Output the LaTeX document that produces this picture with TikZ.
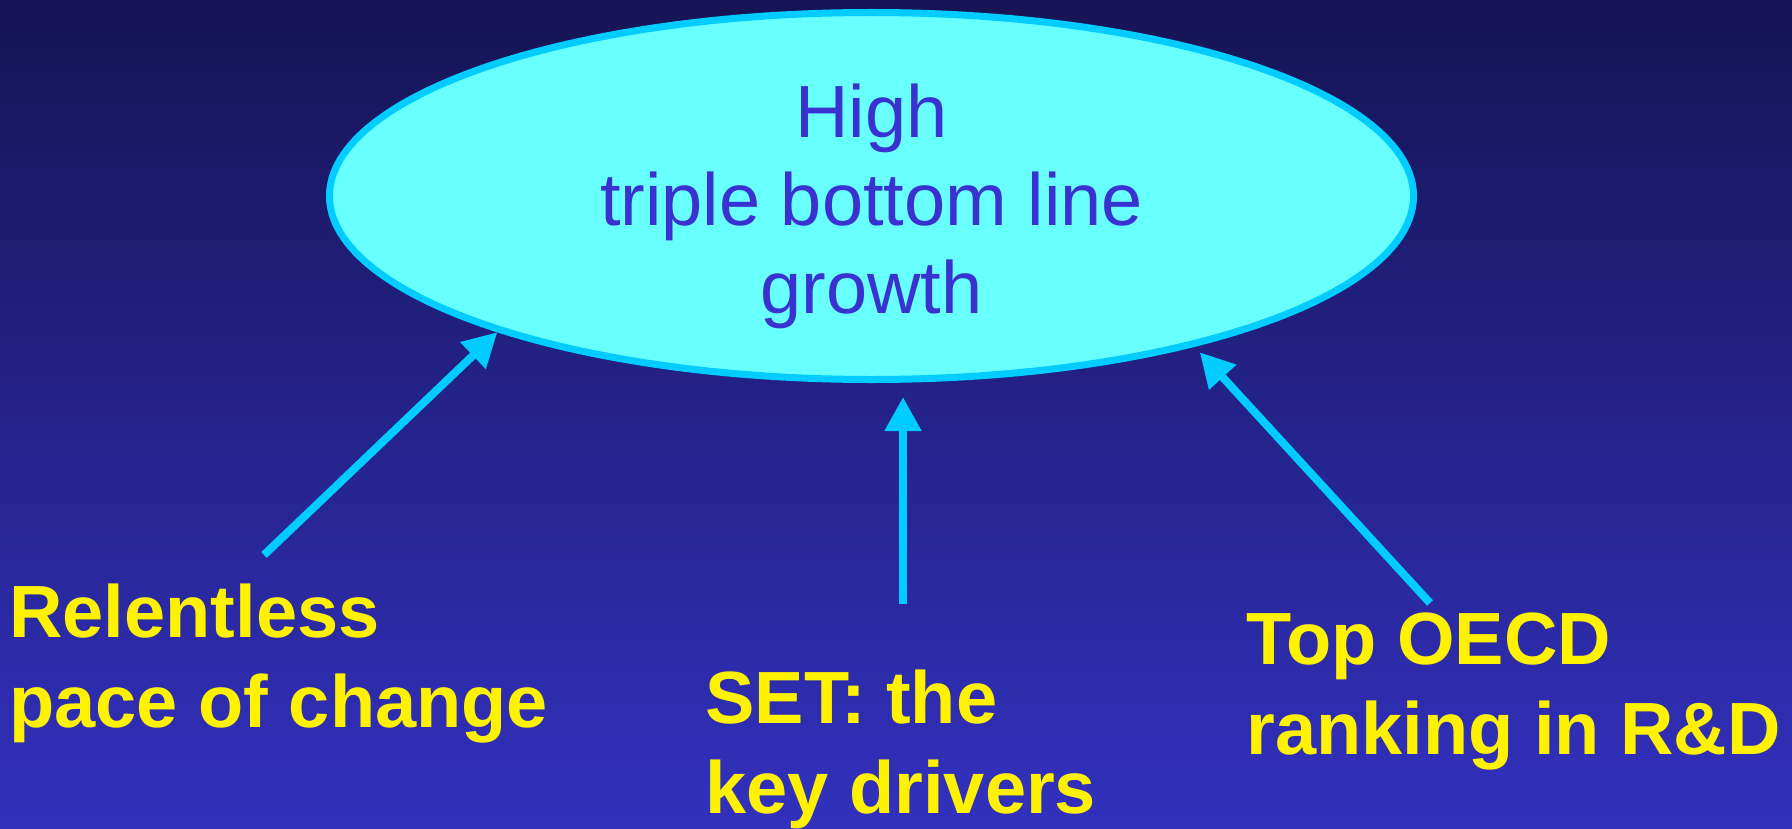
\documentclass[tikz,border=0pt]{standalone}
\usepackage{fontspec}
\setmainfont{Liberation Sans}
\usepackage{xcolor}
\usepackage{tikz}
\usetikzlibrary{arrows.meta,shapes.geometric}
\definecolor{slidetop}{RGB}{22,20,84}
\definecolor{slidebottom}{RGB}{50,49,190}
\definecolor{rimcyan}{RGB}{0,204,255}
\definecolor{goalfill}{RGB}{104,255,255}
\definecolor{goaltext}{RGB}{58,50,208}

\begin{document}
\begin{tikzpicture}[x=0.5pt,y=-0.5pt,
    goalshape/.style={ellipse,draw=rimcyan,fill=goalfill,line width=3.5pt,
      minimum width=542pt,minimum height=183.5pt,inner sep=0pt,
      align=center,text=goaltext,font=\fontsize{37}{44}\selectfont,
      text height=117pt,text depth=0pt},
    driver/.style={anchor=base west,inner sep=0pt,align=left,text=yellow,
      font=\fontsize{37}{45}\selectfont\bfseries},
    push/.style={draw=rimcyan,line width=4pt,-{Triangle[length=17pt,width=17.5pt]}}]
    \shade[top color=slidetop,bottom color=slidebottom] (0,0) rectangle (1792,829);
    \useasboundingbox (0,0) rectangle (1792,829);
    % the goal
    \node[goalshape] (goal) at (871.5,196) {High\\triple bottom line\\growth};
    % the three drivers (placed by the baseline of their last line)
    \node[driver] (pace) at (9,727) {Relentless\\pace of change};
    \node[driver] (setkey) at (705,813) {SET: the\\key drivers};
    \node[driver] (oecd) at (1246,754) {Top OECD\\ranking in R\&D};
    \coordinate (paceTail) at (264,555);
    \coordinate (setTail) at (903,604);
    \coordinate (oecdTail) at (1430,603);
    \draw[push] (paceTail) -- (goal.200.56);
    \draw[push,shorten >=7pt] (setTail) -- (setTail |- goal.south);
    \draw[push,shorten >=3.8pt] (oecdTail) -- (goal.335.5);
  \end{tikzpicture}
\end{document}
